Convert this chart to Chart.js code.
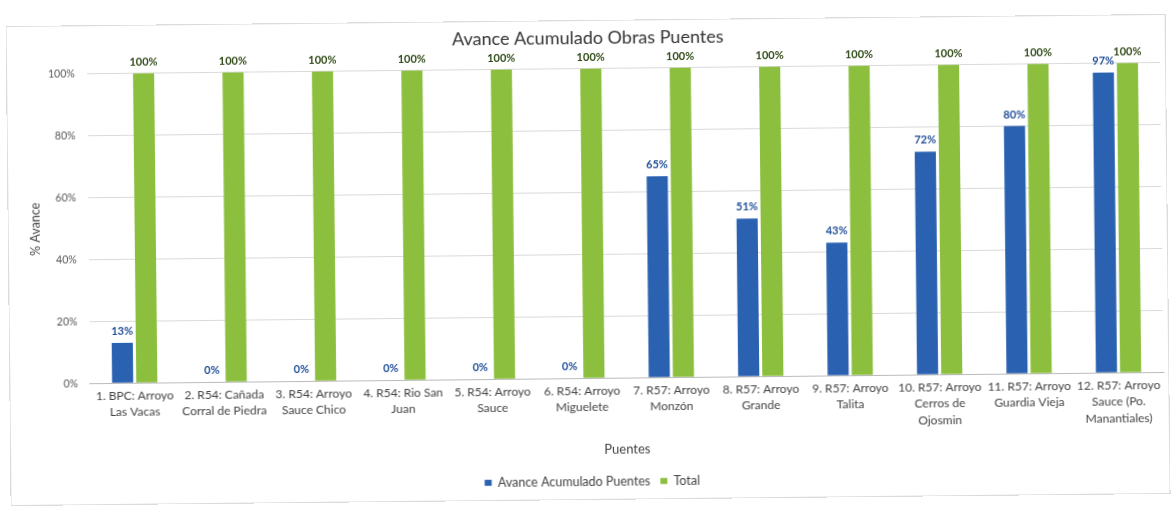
<!DOCTYPE html>
<html>
<head>
<meta charset="utf-8">
<script src="https://cdn.jsdelivr.net/npm/chart.js@4.4.1/dist/chart.umd.min.js"></script>
<style>
    html, body { margin: 0; padding: 0; background: #fff; }
    #wrap {
        position: absolute; left: 0; top: 0; width: 1176px; height: 506px;
        transform: rotate(-0.6deg);
    }
    #frame {
        position: absolute; left: 8px; top: 20px; width: 1158px; height: 478px;
        border: 1px solid #dcdcdc;
    }
</style>
</head>
<body>
<div id="wrap">
    <div id="frame"></div>
    <canvas id="myChart" width="1176" height="506"></canvas>
</div>
<script>
"use strict";
const puentes = [
    ["1. BPC: Arroyo", "Las Vacas"],
    ["2. R54: Cañada", "Corral de Piedra"],
    ["3. R54: Arroyo", "Sauce Chico"],
    ["4. R54: Rio San", "Juan"],
    ["5. R54: Arroyo", "Sauce"],
    ["6. R54: Arroyo", "Miguelete"],
    ["7. R57: Arroyo", "Monzón"],
    ["8. R57: Arroyo", "Grande"],
    ["9. R57: Arroyo", "Talita"],
    ["10. R57: Arroyo", "Cerros de", "Ojosmin"],
    ["11. R57: Arroyo", "Guardia Vieja"],
    ["12. R57: Arroyo", "Sauce (Po.", "Manantiales)"]
];
const avance = [13, 0, 0, 0, 0, 0, 65, 51, 43, 72, 80, 97];
const total = [100, 100, 100, 100, 100, 100, 100, 100, 100, 100, 100, 100];
const yTicks = [0, 20, 40, 60, 80, 100];
const labelColors = ["#1f4e96", "#2f4a17"];

const fontFam = "Lato, 'Open Sans', sans-serif";

// draws the % over each bar
const barLabels = {
    id: "barLabels",
    afterDatasetsDraw(chart) {
        const ctx = chart.ctx;
        ctx.save();
        ctx.font = "bold 11px " + fontFam;
        ctx.textAlign = "center";
        ctx.textBaseline = "bottom";
        chart.data.datasets.forEach((ds, i) => {
            const meta = chart.getDatasetMeta(i);
            ctx.fillStyle = labelColors[i];
            meta.data.forEach((bar, j) => {
                ctx.fillText(ds.data[j] + "%", bar.x, bar.y - 6);
            });
        });
        ctx.restore();
    }
};

new Chart("myChart", {
    type: "bar",
    data: {
        labels: puentes,
        datasets: [{
                label: "Avance Acumulado Puentes",
                data: avance,
                backgroundColor: "#2a61b1",
                categoryPercentage: 0.54,
                barPercentage: 0.875
            }, {
                label: "Total",
                data: total,
                backgroundColor: "#8cbf3e",
                categoryPercentage: 0.54,
                barPercentage: 0.875
            }]
    },
    options: {
        responsive: false,
        animation: false,
        layout: { padding: { left: 18, right: 14, top: 27, bottom: 8 } },
        plugins: {
            title: {
                display: true,
                text: "Avance Acumulado Obras Puentes",
                color: "#333",
                font: { family: fontFam, size: 18, weight: "normal" },
                padding: { top: 0, bottom: 20 }
            },
            legend: {
                position: "bottom",
                labels: {
                    color: "#444",
                    font: { family: fontFam, size: 12.5 },
                    boxWidth: 7,
                    boxHeight: 6,
                    padding: 10
                }
            },
            tooltip: { enabled: false }
        },
        scales: {
            x: {
                grid: { display: false, drawTicks: false },
                border: { color: "#bbb" },
                ticks: {
                    color: "#444",
                    font: { family: fontFam, size: 12, lineHeight: 1.35 },
                    maxRotation: 0,
                    autoSkip: false,
                    padding: 5
                },
                title: {
                    display: true,
                    text: "Puentes",
                    color: "#444",
                    font: { family: fontFam, size: 13 },
                    padding: { top: 5, bottom: 8 }
                }
            },
            y: {
                min: 0,
                max: 100,
                afterBuildTicks: (axis) => {
                    axis.ticks = yTicks.map(v => ({ value: v }));
                },
                grid: { color: "#dadada", drawTicks: false },
                border: { display: false },
                ticks: {
                    color: "#555",
                    font: { family: fontFam, size: 10.5 },
                    padding: 12,
                    callback: (v) => v + "%"
                },
                title: {
                    display: true,
                    text: "% Avance",
                    color: "#444",
                    font: { family: fontFam, size: 12.5 },
                    padding: { top: 10, bottom: -5 }
                }
            }
        }
    },
    plugins: [barLabels]
});
</script>
</body>
</html>
